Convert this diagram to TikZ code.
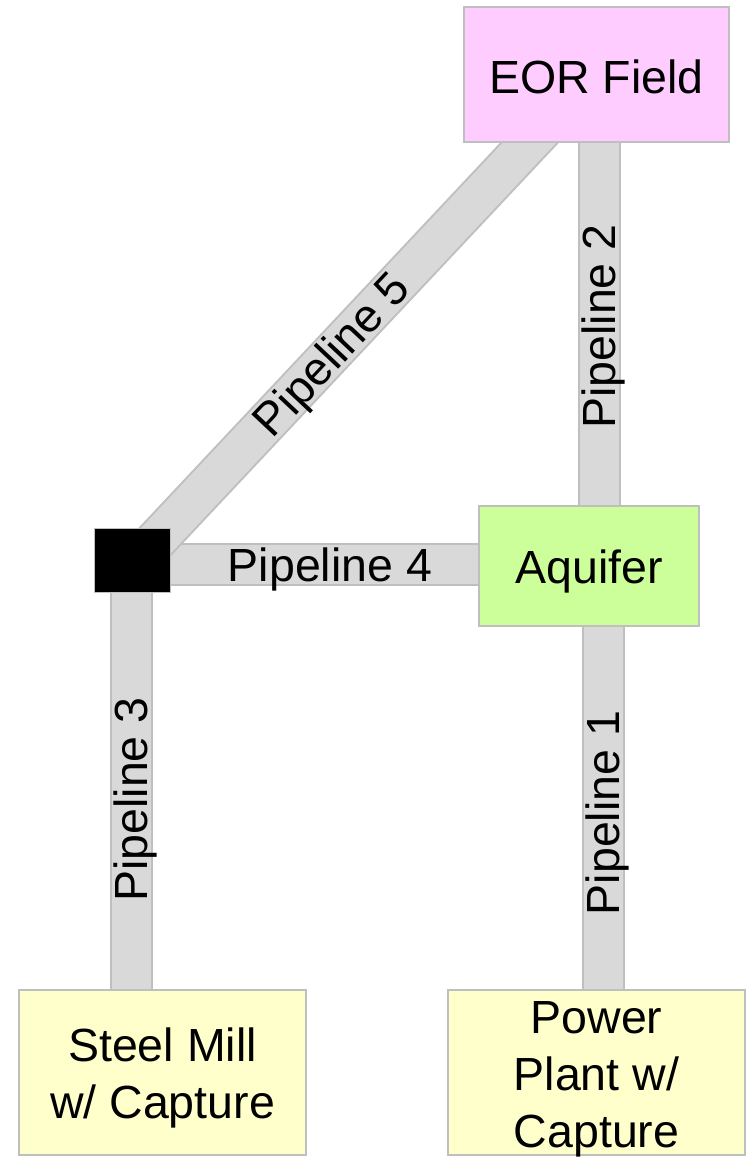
\documentclass[tikz,border=0pt]{standalone}
\usepackage{fontspec}
\setmainfont{Liberation Sans}
\usetikzlibrary{calc,backgrounds}
\definecolor{eorpink}{HTML}{FFCCFF}
\definecolor{aqgreen}{HTML}{CCFF99}
\definecolor{srcyellow}{HTML}{FFFFCC}
\definecolor{pipegray}{HTML}{D9D9D9}
\definecolor{edgegray}{HTML}{BFBFBF}
\tikzset{
  box/.style={draw=edgegray, line width=2pt, inner sep=0pt},
  boxtext/.style={inner sep=0pt, align=center, font=\fontsize{46.5}{57}\selectfont},
  fixedline/.style={text height=34pt, text depth=10pt},
  pipe/.style={draw=edgegray, line width=2pt, double=pipegray, double distance=39pt},
  pipelabel/.style={inner sep=0pt, fixedline, font=\fontsize{46.5}{57}\selectfont},
}
\begin{document}
\begin{tikzpicture}[x=1pt, y=-1pt]
\useasboundingbox (0,0) rectangle (749,1158);
% boxes
\node[box, fill=eorpink, minimum width=265pt, minimum height=135pt] (eor) at (596.5,74.5) {};
\node[box, fill=aqgreen, minimum width=220pt, minimum height=120pt] (aq) at (589,566) {};
\node[draw=edgegray, line width=1pt, fill=black, minimum width=76pt, minimum height=64pt, inner sep=0pt] (sq) at (132,560) {};
\node[box, fill=srcyellow, minimum width=287pt, minimum height=165pt] (steel) at (162.5,1072.5) {};
\node[box, fill=srcyellow, minimum width=297pt, minimum height=165pt] (power) at (596.5,1072.5) {};
% box texts
\node[boxtext, fixedline] (eort) at ($(eor)+(0,7)$) {EOR Field};
\node[boxtext, fixedline] (aqt) at ($(aq)+(0,5)$) {Aquifer};
\node[boxtext] (steelt) at ($(steel)+(0,5.5)$) {Steel Mill\\w/ Capture};
\node[boxtext] (powert) at ($(power)+(0,6.5)$) {Power\\Plant w/\\Capture};
% pipelines
\begin{scope}[on background layer]
  \draw[pipe] ($(eor.south)+(2.5,-10)$) -- ($(aq.north)+(10,10)$);
  \draw[pipe] ($(aq.south)+(14.5,-10)$) -- ($(aq.south |- power.north)+(14.5,10)$);
  \draw[pipe] ($(sq.south)+(-1,-10)$) -- ($(sq.south |- steel.north)+(-1,10)$);
  \draw[pipe] ($(sq.east)+(-10,4.5)$) -- ($(aq.west)+(10,-1.5)$);
  \draw[pipe] ($(eor.south west)+(85,-20)$) -- ($(sq.center)+(18,-13)$);
\end{scope}
% labels
\node[pipelabel, rotate=90] (l2) at (603.5,326.5) {Pipeline 2};
\node[pipelabel, rotate=90] (l1) at (607,813) {Pipeline 1};
\node[pipelabel, rotate=90] (l3) at (135.5,799.5) {Pipeline 3};
\node[pipelabel] (l4) at (330,569.5) {Pipeline 4};
\node[pipelabel, rotate=46.8] (l5) at (334,357) {Pipeline 5};
\end{tikzpicture}
\end{document}
